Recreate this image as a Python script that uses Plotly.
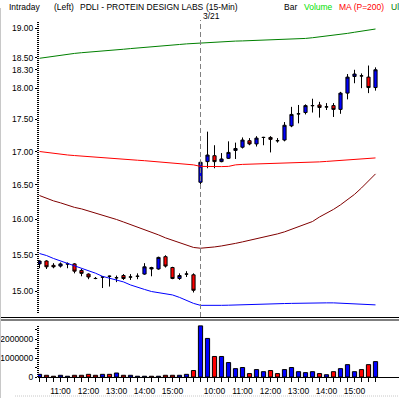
import plotly.graph_objects as go

# ---------------- data ----------------
day1_times = ["10:15", "10:30", "10:45", "11:00", "11:15", "11:30", "11:45", "12:00", "12:15", "12:30",
              "12:45", "13:00", "13:15", "13:30", "13:45", "14:00", "14:15", "14:30", "14:45", "15:00",
              "15:15", "15:30", "15:45"]
day2_times = ["09:30", "09:45", "10:00", "10:15", "10:30", "10:45", "11:00", "11:15", "11:30", "11:45",
              "12:00", "12:15", "12:30", "12:45", "13:00", "13:15", "13:30", "13:45", "14:00", "14:15",
              "14:30", "14:45", "15:00", "15:15", "15:30", "15:45"]
day2_label = "3/21"

opens = [15.37, 15.41, 15.35, 15.34, 15.37, 15.37, 15.28, 15.23, 15.17, 15.19, 15.20, 15.18, 15.21, 15.19,
         15.20, 15.23, 15.32, 15.30, 15.47, 15.32, 15.17, 15.23, 15.22,
         16.54, 16.85, 16.94, 16.85, 16.90, 17.02, 17.07, 17.17, 17.12, 17.22, 17.22, 17.17, 17.18, 17.40,
         17.59, 17.61, 17.72, 17.73, 17.70, 17.72, 17.66, 17.92, 18.19, 18.20, 18.18, 18.01]
closes = [15.41, 15.33, 15.33, 15.37, 15.37, 15.27, 15.24, 15.19, 15.17, 15.19, 15.20, 15.18, 15.17, 15.19,
          15.20, 15.33, 15.30, 15.46, 15.34, 15.17, 15.21, 15.23, 15.01,
          16.84, 16.95, 16.85, 16.89, 16.99, 17.05, 17.18, 17.12, 17.21, 17.22, 17.19, 17.17, 17.41, 17.58,
          17.59, 17.72, 17.72, 17.69, 17.70, 17.66, 17.92, 18.18, 18.23, 18.20, 18.01, 18.30]
highs = [15.42, 15.42, 15.38, 15.39, 15.39, 15.38, 15.30, 15.24, 15.19, 15.20, 15.21, 15.21, 15.23, 15.23,
         15.24, 15.38, 15.33, 15.47, 15.49, 15.33, 15.24, 15.27, 15.24,
         16.88, 17.31, 17.10, 16.98, 17.16, 17.14, 17.22, 17.21, 17.24, 17.23, 17.24, 17.21, 17.46, 17.70,
         17.73, 17.74, 17.83, 17.78, 17.76, 17.76, 17.94, 18.23, 18.30, 18.24, 18.37, 18.34]
lows = [15.31, 15.30, 15.31, 15.32, 15.31, 15.24, 15.20, 15.16, 15.16, 15.04, 15.06, 15.12, 15.15, 15.15,
        15.16, 15.22, 15.20, 15.29, 15.32, 15.16, 15.15, 15.19, 14.98,
        16.45, 16.75, 16.75, 16.84, 16.89, 16.89, 17.05, 17.10, 17.08, 17.10, 16.99, 17.14, 17.16, 17.38,
        17.44, 17.58, 17.61, 17.53, 17.65, 17.54, 17.59, 17.82, 18.08, 18.00, 17.92, 17.96]

volumes = [140000, 90000, 40000, 90000, 40000, 90000, 90000, 140000, 90000, 140000, 140000, 210000,
           90000, 90000, 40000, 40000, 40000, 40000, 90000, 90000, 90000, 140000, 340000,
           2690000, 2030000, 1080000, 1080000, 760000, 440000, 500000, 180000, 390000, 280000, 340000,
           180000, 390000, 500000, 280000, 230000, 280000, 180000, 120000, 280000, 440000, 650000,
           280000, 390000, 650000, 810000]
vol_dir = ["up", "down", "down", "up", "up", "down", "down", "down", "down", "up", "down", "up",
           "down", "up", "up", "up", "down", "up", "down", "down", "up", "up", "down",
           "up", "up", "down", "up", "up", "up", "up", "down", "up", "up", "down", "down", "up", "up",
           "up", "up", "up", "down", "up", "down", "up", "up", "up", "down", "down", "up"]

upper_band = [18.490, 18.508, 18.529, 18.542, 18.557, 18.571, 18.583, 18.591, 18.598, 18.606, 18.620,
              18.630, 18.641, 18.652, 18.660, 18.670, 18.678, 18.687, 18.699, 18.710, 18.721, 18.731,
              18.739, 18.747, 18.754, 18.759, 18.764, 18.771, 18.778, 18.781, 18.785, 18.790, 18.791,
              18.795, 18.798, 18.803, 18.808, 18.815, 18.823, 18.835, 18.848, 18.865, 18.874, 18.889,
              18.909, 18.928, 18.950, 18.966, 18.983]
ma200 = [17.004, 16.989, 16.977, 16.963, 16.951, 16.942, 16.933, 16.924, 16.917, 16.909, 16.902, 16.894,
         16.886, 16.879, 16.871, 16.864, 16.856, 16.849, 16.840, 16.831, 16.822, 16.811, 16.801,
         16.778, 16.775, 16.775, 16.775, 16.778, 16.801, 16.808, 16.811, 16.811, 16.813, 16.816, 16.819,
         16.820, 16.823, 16.828, 16.834, 16.840, 16.846, 16.853, 16.861, 16.868, 16.876, 16.883, 16.891,
         16.898, 16.906]
mid_band = [16.344, 16.303, 16.266, 16.237, 16.200, 16.171, 16.149, 16.120, 16.091, 16.061, 16.032,
            15.996, 15.960, 15.925, 15.890, 15.854, 15.819, 15.776, 15.734, 15.698, 15.663, 15.627,
            15.599, 15.588, 15.592, 15.606, 15.620, 15.635, 15.656, 15.677, 15.698, 15.720, 15.741,
            15.762, 15.790, 15.819, 15.854, 15.890, 15.925, 15.967, 16.032, 16.083, 16.142, 16.208,
            16.281, 16.361, 16.456, 16.560, 16.665]
lower_band = [15.514, 15.486, 15.445, 15.411, 15.379, 15.349, 15.315, 15.281, 15.242, 15.199, 15.171,
              15.151, 15.123, 15.082, 15.048, 15.021, 14.993, 14.980, 14.969, 14.947, 14.914, 14.874,
              14.834, 14.808, 14.805, 14.805, 14.808, 14.810, 14.814, 14.814, 14.817, 14.821, 14.824,
              14.828, 14.828, 14.832, 14.834, 14.837, 14.837, 14.838, 14.841, 14.841, 14.841, 14.837,
              14.828, 14.828, 14.824, 14.814, 14.814]

price_ticks = [15.00, 15.50, 16.00, 16.50, 17.00, 17.50, 18.00, 18.30, 18.50, 19.00]
vol_ticks = [0, 1000000, 2000000]

# ---------------- figure ----------------
times = day1_times + day2_times
x = list(range(len(times)))
day2_start = len(day1_times)

FONT = "Liberation Sans, Arial, sans-serif"
FS = 8.5
BLUE = "#0000FF"
RED = "#FF0000"

W, H = 399, 398
ML, MR, MT, MB = 38, 0, 22, 21
PH = H - MT - MB
PW = W - ML - MR
main_bottom_px = 313
vol_top_px = 325


def py(ypx):
    return (H - MB - ypx) / PH


def px(xpx):
    return (xpx - ML) / PW


fig = go.Figure()

line_specs = [(upper_band, "#008000"), (ma200, "#FF0000"), (mid_band, "#800000"), (lower_band, "#0000FF")]
for vals, col in line_specs:
    fig.add_trace(go.Scatter(x=x, y=vals, mode="lines", line=dict(color=col, width=1),
                             hoverinfo="skip", showlegend=False, xaxis="x", yaxis="y"))

fig.add_trace(go.Candlestick(
    x=x, open=opens, high=highs, low=lows, close=closes,
    increasing=dict(line=dict(color="black", width=1), fillcolor=BLUE),
    decreasing=dict(line=dict(color="black", width=1), fillcolor=RED),
    whiskerwidth=0, showlegend=False, hoverinfo="skip", xaxis="x", yaxis="y"))

fig.add_trace(go.Bar(
    x=x, y=volumes, width=0.6,
    marker=dict(color=[BLUE if d == "up" else RED for d in vol_dir], line=dict(color="black", width=1)),
    showlegend=False, hoverinfo="skip", xaxis="x", yaxis="y2"))

xticktext = [t.lstrip("0") if t.endswith(":00") else "" for t in times]

tfont = dict(family=FONT, size=FS, color="black")
fig.update_layout(
    width=W, height=H,
    margin=dict(l=ML, r=MR, t=MT, b=MB, pad=0),
    paper_bgcolor="white", plot_bgcolor="white",
    font=dict(family=FONT, size=FS, color="black"),
    boxgap=0.35,
    showlegend=False,
    xaxis=dict(domain=[0, 1], anchor="y2", range=[-0.2143, 51.357],
               tickmode="array", tickvals=x, ticktext=xticktext,
               ticks="outside", ticklen=4, tickcolor="black", tickwidth=1,
               showgrid=False, zeroline=False, showline=True, linecolor="black", linewidth=1,
               rangeslider=dict(visible=False), ticklabelstandoff=2, tickfont=tfont),
    yaxis=dict(domain=[py(main_bottom_px), 1], type="log", range=[1.167506, 1.281102],
               tickmode="array", tickvals=price_ticks, ticktext=[f"{v:.2f}" for v in price_ticks],
               ticks="outside", ticklen=2, tickcolor="black", showgrid=False, zeroline=False,
               showline=False, anchor="x", tickfont=tfont),
    yaxis2=dict(domain=[0, py(vol_top_px)], range=[0, 2737000],
                tickmode="array", tickvals=vol_ticks, ticktext=[str(v) for v in vol_ticks],
                ticks="outside", ticklen=2, tickcolor="black", showgrid=False, zeroline=False,
                showline=False, anchor="x",
                minor=dict(tickmode="linear", tick0=0, dtick=500000, ticks="outside", ticklen=2,
                           tickcolor="black"),
                tickfont=tfont),
)

shapes = []
# dotted y-axis lines
shapes.append(dict(type="line", xref="paper", yref="paper", x0=0, x1=0, y0=py(main_bottom_px), y1=1,
                   line=dict(color="black", width=2, dash="1px,1px")))
shapes.append(dict(type="line", xref="paper", yref="paper", x0=0, x1=0, y0=0, y1=py(vol_top_px),
                   line=dict(color="black", width=2, dash="1px,1px")))
# double separator between panels
for ysep in (317.5, 320.0):
    shapes.append(dict(type="line", xref="paper", yref="paper", x0=px(0), x1=px(W), y0=py(ysep), y1=py(ysep),
                       line=dict(color="black", width=1)))
# session divider
shapes.append(dict(type="line", xref="x", yref="paper", x0=day2_start, x1=day2_start,
                   y0=py(317), y1=py(20), line=dict(color="#808080", width=1, dash="5px,3px")))
# frame greys
shapes.append(dict(type="line", xref="paper", yref="paper", x0=px(0.5), x1=px(0.5), y0=py(H), y1=py(8),
                   line=dict(color="#C8C8C8", width=1)))
shapes.append(dict(type="line", xref="paper", yref="paper", x0=px(15), x1=px(W), y0=py(396), y1=py(396),
                   line=dict(color="#C8C8C8", width=1, dash="1px,1px")))
fig.update_layout(shapes=shapes)

header = [
    ("Intraday", 7, "black"),
    ("(Left)", 52, "black"),
    ("PDLI - PROTEIN DESIGN LABS", 78, "black"),
    ("(15-Min)", 204, "black"),
    ("Bar", 282, "black"),
    ("Volume", 302, "#00E000"),
    ("MA (P=200)", 337, "#FF0000"),
    ("Ul", 389, "#008000"),
]
ann = []
for txt, xp, col in header:
    ann.append(dict(text=txt, xref="paper", yref="paper", x=px(xp), y=py(7), xanchor="left",
                    yanchor="middle", showarrow=False, font=dict(family=FONT, size=FS, color=col)))
ann.append(dict(text=day2_label, xref="x", yref="paper", x=day2_start + 1.5, y=py(16), xanchor="center",
                yanchor="middle", showarrow=False, font=dict(family=FONT, size=FS, color="black")))
fig.update_layout(annotations=ann)

fig.write_html("out.html", config=dict(displayModeBar=False, staticPlot=True),
               post_script="document.body.style.margin='0';document.body.style.overflow='hidden';")
